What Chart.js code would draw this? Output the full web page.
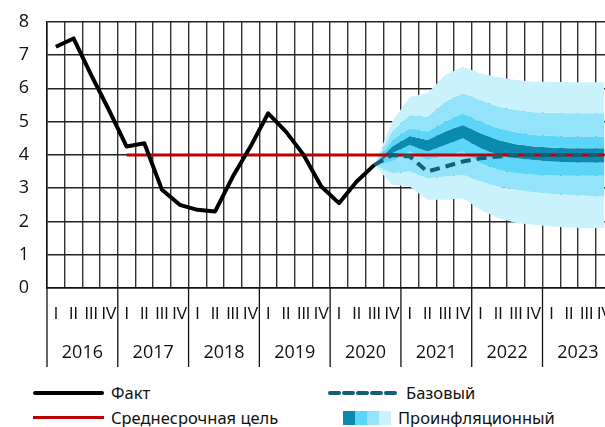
<!DOCTYPE html>
<html>
<head>
<meta charset="utf-8">
<script src="https://cdn.jsdelivr.net/npm/chart.js@4.4.1/dist/chart.umd.min.js"></script>
<style>
html, body { margin:0; padding:0; background:#fff; overflow:hidden; }
#wrap { position:relative; width:605px; height:427px; overflow:hidden; }
#chart { position:absolute; left:0; top:-7px; }
.txt { position:absolute; font-family:"Noto Sans"; font-size:16.5px; line-height:20px; color:#111; white-space:nowrap; }
.sw { position:absolute; }
</style>
</head>
<body>
<div id="wrap">
	<canvas id="chart" width="629" height="379"></canvas>

	<div class="sw" style="left:33px; top:391px; width:71px; height:4px; background:#000; border-radius:2px;"></div>
	<div class="txt" style="left:111px; top:383px;">Факт</div>
	<svg class="sw" style="left:328px; top:389px;" width="72" height="8">
		<line x1="2" y1="4" x2="70" y2="4" stroke="#145f78" stroke-width="4" stroke-dasharray="9 5" stroke-linecap="round"/>
	</svg>
	<div class="txt" style="left:406px; top:383px;">Базовый</div>

	<div class="sw" style="left:33px; top:416px; width:71px; height:3px; background:#c00000;"></div>
	<div class="txt" style="left:111px; top:408px;">Среднесрочная цель</div>
	<div class="sw" style="left:343px; top:411px; width:12px; height:14px; background:#0a8aaf;"></div>
	<div class="sw" style="left:355px; top:411px; width:12px; height:14px; background:#5cd6f8;"></div>
	<div class="sw" style="left:367px; top:411px; width:12px; height:14px; background:#93e3fa;"></div>
	<div class="sw" style="left:379px; top:411px; width:12px; height:14px; background:#c9f2fd;"></div>
	<div class="txt" style="left:398px; top:408px;">Проинфляционный</div>
</div>

<script>
// categories
var years = ['2016', '2017', '2018', '2019', '2020', '2021', '2022', '2023'];
var quarterNames = ['I', 'II', 'III', 'IV'];

// actual inflation, 2016 Q1 .. 2020 Q3
var fact = [7.25, 7.5, 6.4, 5.35, 4.25, 4.35, 2.95, 2.5, 2.35, 2.3, 3.35, 4.25, 5.25, 4.7, 4.0, 3.05, 2.55, 3.2, 3.7];

// medium-term target from 2017 Q1
var target = [null, null, null, null, 4, 4, 4, 4, 4, 4, 4, 4, 4, 4, 4, 4, 4, 4, 4, 4, 4, 4, 4, 4, 4, 4, 4, 4, 4, 4, 4, 4];

// forecast, 2020 Q3 .. 2023 Q4
var forecastStart = 18;
var baseline = [3.7, 4.0, 3.95, 3.5, 3.65, 3.8, 3.9, 3.95, 4.0, 4.0, 4.0, 4.0, 4.0, 4.0];

// pro-inflation fan, band edges from top to bottom
var fanB1 = [3.7, 5.0, 5.75, 5.85, 6.4, 6.65, 6.45, 6.33, 6.25, 6.2, 6.2, 6.18, 6.18, 6.18];
var fanB2 = [3.7, 4.7, 5.2, 5.15, 5.6, 5.85, 5.65, 5.45, 5.35, 5.28, 5.27, 5.25, 5.25, 5.25];
var fanB3 = [3.7, 4.45, 4.8, 4.7, 5.0, 5.25, 5.0, 4.8, 4.68, 4.6, 4.57, 4.55, 4.55, 4.55];
var fanB4 = [3.7, 4.25, 4.57, 4.45, 4.7, 4.9, 4.65, 4.45, 4.32, 4.25, 4.22, 4.2, 4.2, 4.2];
var fanB5 = [3.7, 4.05, 4.3, 4.1, 4.3, 4.5, 4.2, 4.0, 3.9, 3.85, 3.8, 3.78, 3.77, 3.77];
var fanB6 = [3.7, 3.8, 4.1, 3.85, 4.0, 4.1, 3.75, 3.55, 3.45, 3.4, 3.38, 3.37, 3.37, 3.37];
var fanB7 = [3.7, 3.45, 3.5, 3.3, 3.35, 3.4, 3.2, 3.05, 2.95, 2.88, 2.83, 2.8, 2.77, 2.75];
var fanB8 = [3.7, 3.1, 3.05, 2.65, 2.65, 2.7, 2.35, 2.1, 1.95, 1.9, 1.85, 1.82, 1.8, 1.8];

var yTicks = [0, 1, 2, 3, 4, 5, 6, 7, 8];

var labels = [];
years.forEach(function(y){
	quarterNames.forEach(function(q){ labels.push(q); });
});

function pad(arr){
	var out = [];
	for (var i = 0; i < forecastStart; i++) out.push(null);
	return out.concat(arr);
}

function band(data, color){
	return {
		data: pad(data),
		borderWidth: 0,
		pointRadius: 0,
		backgroundColor: color,
		fill: color ? '+1' : false,
		order: 2
	};
}

// year row under the quarters, with separators
var yearAxis = {
	id: 'yearAxis',
	afterDraw: function(chart){
		var ctx = chart.ctx;
		var xs = chart.scales.x;
		var area = chart.chartArea;
		var half = (xs.getPixelForValue(1) - xs.getPixelForValue(0)) / 2;
		ctx.save();
		ctx.strokeStyle = '#111';
		ctx.lineWidth = 1.3;
		ctx.fillStyle = '#111';
		ctx.font = '18px "Open Sans"';
		ctx.textAlign = 'center';
		ctx.textBaseline = 'middle';
		years.forEach(function(y, i){
			var left = xs.getPixelForValue(i * 4) - half;
			ctx.beginPath();
			ctx.moveTo(left, area.bottom);
			ctx.lineTo(left, area.bottom + 79);
			ctx.stroke();
			var mid = (xs.getPixelForValue(i * 4) + xs.getPixelForValue(i * 4 + 3)) / 2;
			ctx.fillText(y, mid, area.bottom + 65);
		});
		ctx.restore();
	}
};

var chart = new Chart(document.getElementById('chart'), {
	type: 'line',
	data: {
		labels: labels,
		datasets: [
			{ data: fact, borderColor: '#000', borderWidth: 4, pointRadius: 0, fill: false, order: 0, borderJoinStyle: 'round' },
			{ data: pad(baseline), borderColor: '#145f78', borderWidth: 4, borderDash: [10, 6], pointRadius: 0, fill: false, order: 0 },
			{ data: target, borderColor: '#c00000', borderWidth: 3, pointRadius: 0, fill: false, order: 0 },
			band(fanB1, '#c9f2fd'),
			band(fanB2, '#93e3fa'),
			band(fanB3, '#5cd6f8'),
			band(fanB4, '#0a8aaf'),
			band(fanB5, '#5cd6f8'),
			band(fanB6, '#93e3fa'),
			band(fanB7, '#c9f2fd'),
			band(fanB8, null)
		]
	},
	options: {
		responsive: false,
		animation: false,
		layout: { padding: { top: 15.5, left: 0, right: 0, bottom: 0 } },
		plugins: { legend: { display: false }, tooltip: { enabled: false } },
		scales: {
			x: {
				offset: true,
				grid: { offset: true, color: '#333', lineWidth: 1.4, drawTicks: false },
				border: { color: '#111', width: 1.5 },
				ticks: { autoSkip: false, maxRotation: 0, padding: 17, color: '#111', font: { family: 'Liberation Sans', size: 16 } },
				afterFit: function(s){ s.height = 84; }
			},
			y: {
				min: 0,
				max: 8,
				afterBuildTicks: function(s){ s.ticks = yTicks.map(function(v){ return { value: v }; }); },
				grid: { color: '#222', lineWidth: 1.4, drawTicks: false },
				border: { color: '#111', width: 1.5 },
				ticks: { padding: 18, color: '#111', font: { family: 'Open Sans', size: 18 } },
				afterFit: function(s){ s.width = 47; }
			}
		}
	},
	plugins: [yearAxis]
});
</script>
</body>
</html>
